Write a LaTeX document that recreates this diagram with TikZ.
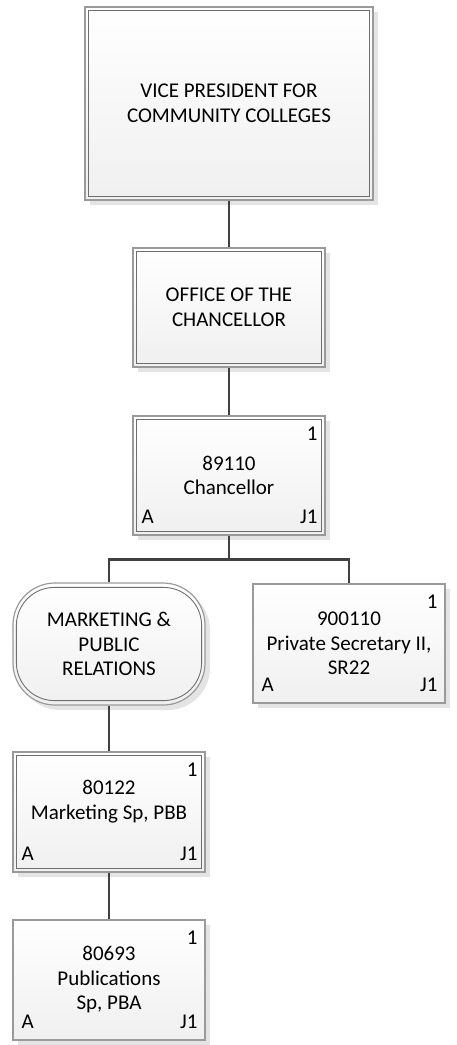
\documentclass[tikz,border=0pt]{standalone}
\usepackage{fontspec}
\setmainfont{Carlito}
\usetikzlibrary{shadows}
\definecolor{outerline}{HTML}{9A9A9A}
\definecolor{innerline}{HTML}{6E6E6E}
\definecolor{connline}{HTML}{404040}
\definecolor{shadowc}{HTML}{E4E4E4}
\newcommand{\boxfont}{\fontsize{21}{24.5}\selectfont}
\begin{document}
\begin{tikzpicture}[x=1pt,y=-1pt,
  orgbox/.style={draw=outerline, line width=1.2pt, top color=white, bottom color=black!6,
    minimum width=192pt, minimum height=119pt, align=center, font=\boxfont, inner sep=0pt,
    drop shadow={shadow xshift=5pt, shadow yshift=-5pt, fill=shadowc, opacity=1}},
  innerrule/.style={draw=innerline, line width=0.9pt},
  conn/.style={draw=connline, line width=2.6pt},
  corner/.style={font=\boxfont, inner sep=0pt}]
\useasboundingbox (0,0) rectangle (457,1045);

% boxes
\node[orgbox, minimum width=288pt, minimum height=193pt] (vp) at (229,103.5) {VICE PRESIDENT FOR\\COMMUNITY COLLEGES};
\node[orgbox] (office) at (229,307.5) {OFFICE OF THE\\CHANCELLOR};
\node[orgbox] (chan) at (229,475.5) {89110\\Chancellor};
\node[orgbox, minimum height=122pt, rounded corners=42pt] (mkt) at (109,644) {MARKETING \&\\PUBLIC\\RELATIONS};
\node[orgbox] (ps) at (349,643.5) {900110\\Private Secretary II,\\SR22};
\node[orgbox, minimum height=120pt] (msp) at (109,812) {80122\\Marketing Sp, PBB\\\mbox{}};
\node[orgbox, minimum height=120pt] (pub) at (109,980) {80693\\Publications\\Sp, PBA};

% inner rules of the double borders
\draw[innerrule] ([shift={(4,4)}]vp.north west) rectangle ([shift={(-4,-4)}]vp.south east);
\draw[innerrule] ([shift={(4,4)}]office.north west) rectangle ([shift={(-4,-4)}]office.south east);
\draw[innerrule] ([shift={(4,4)}]chan.north west) rectangle ([shift={(-4,-4)}]chan.south east);
\draw[innerrule] ([shift={(4,4)}]msp.north west) rectangle ([shift={(-4,-4)}]msp.south east);
\draw[innerrule, rounded corners=38pt] ([shift={(4,5)}]mkt.north west) rectangle ([shift={(-4,-5)}]mkt.south east);

% corner labels
\foreach \b in {chan,ps,msp,pub}{
  \node[corner, anchor=base east] (\b-n) at ([shift={(-8,25)}]\b.north east) {1};
  \node[corner, anchor=base west] (\b-a) at ([shift={(9,-12)}]\b.south west) {A};
  \node[corner, anchor=base east] (\b-j) at ([shift={(-8,-12)}]\b.south east) {J1};
}

% connectors
\draw[conn] (vp.south) -- (office.north);
\draw[conn] (office.south) -- (chan.north);
\draw[conn] (chan.south) -- ++(0,24) coordinate (branch);
\draw[conn] (branch) -| (mkt.north);
\draw[conn] (branch) -| (ps.north);
\draw[conn] (mkt.south) -- (msp.north);
\draw[conn] (msp.south) -- (pub.north);
\end{tikzpicture}
\end{document}
